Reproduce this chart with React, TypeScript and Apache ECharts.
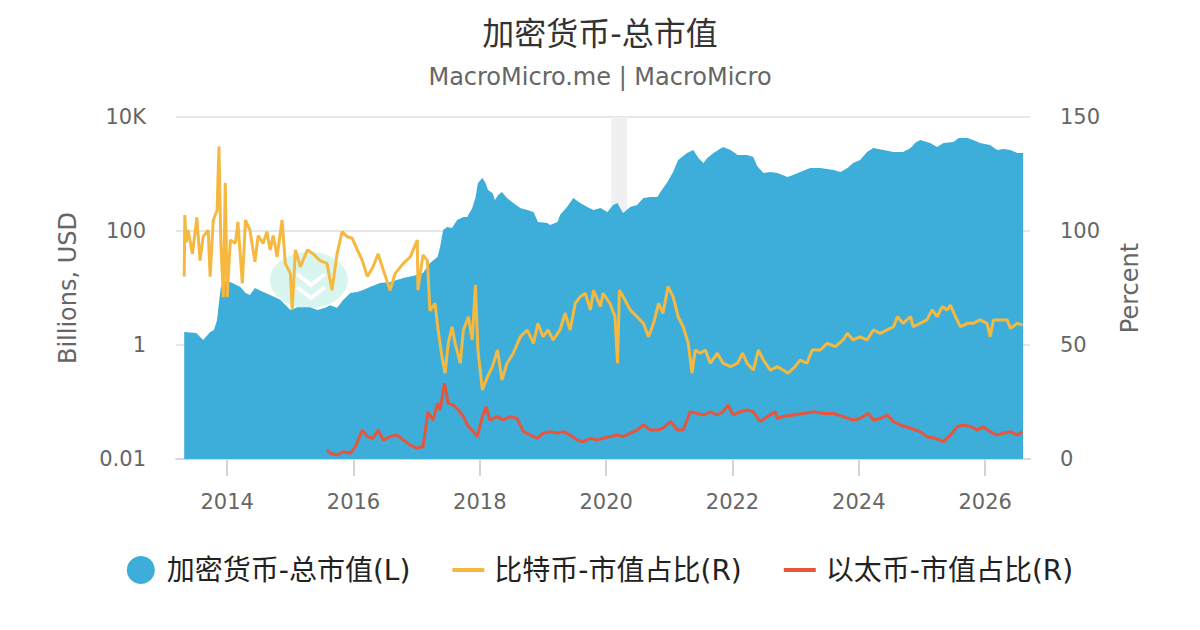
import React, { useEffect, useRef } from "react";
import * as echarts from "echarts";

// Total crypto market cap (billions USD), decimal year
const capYears = [
  2013.32, 2013.51, 2013.62, 2013.73, 2013.79, 2013.84, 2013.87, 2013.9, 2013.95, 2014.05,
  2014.21, 2014.29, 2014.36, 2014.44, 2014.57, 2014.68, 2014.84, 2015.0, 2015.11, 2015.31,
  2015.43, 2015.55, 2015.63, 2015.74, 2015.84, 2015.95, 2016.06, 2016.15, 2016.26, 2016.42,
  2016.58, 2016.79, 2017.01, 2017.1, 2017.21, 2017.33, 2017.37, 2017.42, 2017.48, 2017.56,
  2017.64, 2017.74, 2017.8, 2017.88, 2017.93, 2017.97, 2018.04, 2018.09, 2018.13, 2018.2,
  2018.24, 2018.29, 2018.35, 2018.43, 2018.53, 2018.64, 2018.75, 2018.85, 2018.92, 2019.07,
  2019.11, 2019.23, 2019.27, 2019.38, 2019.48, 2019.59, 2019.7, 2019.8, 2019.91, 2020.02,
  2020.11, 2020.18, 2020.22, 2020.27, 2020.38, 2020.49, 2020.59, 2020.7, 2020.81, 2020.86,
  2020.97, 2021.06, 2021.14, 2021.28, 2021.38, 2021.46, 2021.54, 2021.6, 2021.7, 2021.85,
  2021.97, 2022.08, 2022.23, 2022.33, 2022.39, 2022.49, 2022.6, 2022.71, 2022.87, 2022.96,
  2023.07, 2023.23, 2023.39, 2023.6, 2023.71, 2023.82, 2023.91, 2024.02, 2024.13, 2024.23,
  2024.39, 2024.55, 2024.7, 2024.82, 2024.89, 2024.97, 2025.13, 2025.24, 2025.34, 2025.5,
  2025.58, 2025.72, 2025.81, 2025.92, 2026.08, 2026.19, 2026.29, 2026.4, 2026.51, 2026.6,
];
const capValues = [
  1.69, 1.62, 1.22, 1.69, 1.83, 2.75, 5.46, 10.4, 12.7, 12.7,
  10.4, 8.2, 7.5, 10.0, 8.5, 7.5, 6.2, 4.1, 4.6, 4.6,
  4.1, 4.5, 5.0, 4.5, 6.2, 8.2, 8.5, 9.2, 10.4, 12.2,
  12.7, 15.0, 16.9, 18.3, 27.5, 35, 52, 104, 117, 113,
  156, 176, 176, 253, 379, 695, 851, 695, 524, 464,
  350, 428, 483, 379, 310, 253, 234, 215, 144, 138,
  127, 144, 191, 264, 379, 310, 264, 234, 253, 215,
  286, 310, 253, 207, 264, 286, 379, 395, 395, 483,
  724, 1084, 1762, 2334, 2636, 1909, 1560, 1909, 2334, 2980,
  2636, 2154, 2154, 1987, 1381, 1042, 1084, 1042, 885, 960,
  1084, 1274, 1274, 1175, 1084, 1274, 1560, 1762, 2432, 2858,
  2636, 2432, 2432, 2858, 3500, 3946, 3500, 2980, 3500, 3640,
  4283, 4283, 3946, 3500, 3228, 2636, 2748, 2636, 2334, 2334,
];

// Bitcoin dominance (%)
const btcYears = [
  2013.32, 2013.33, 2013.35, 2013.38, 2013.45, 2013.52, 2013.57, 2013.62, 2013.7, 2013.73,
  2013.78, 2013.84, 2013.87, 2013.9, 2013.94, 2013.97, 2014.0, 2014.05, 2014.13, 2014.17,
  2014.24, 2014.29, 2014.36, 2014.44, 2014.49, 2014.57, 2014.63, 2014.68, 2014.73, 2014.79,
  2014.87, 2014.92, 2015.0, 2015.03, 2015.08, 2015.16, 2015.27, 2015.36, 2015.47, 2015.58,
  2015.66, 2015.74, 2015.82, 2015.9, 2015.98, 2016.06, 2016.14, 2016.22, 2016.31, 2016.39,
  2016.47, 2016.58, 2016.66, 2016.79, 2016.9, 2017.01, 2017.02, 2017.1, 2017.17, 2017.21,
  2017.29, 2017.34, 2017.4, 2017.45, 2017.5, 2017.56, 2017.61, 2017.69, 2017.74, 2017.82,
  2017.88, 2017.93, 2017.97, 2018.04, 2018.12, 2018.2, 2018.28, 2018.35, 2018.43, 2018.53,
  2018.64, 2018.75, 2018.85, 2018.92, 2019.0, 2019.08, 2019.16, 2019.27, 2019.35, 2019.43,
  2019.51, 2019.59, 2019.67, 2019.75, 2019.8, 2019.91, 2019.95, 2020.06, 2020.14, 2020.18,
  2020.21, 2020.3, 2020.38, 2020.49, 2020.59, 2020.67, 2020.75, 2020.83, 2020.9, 2020.98,
  2021.06, 2021.14, 2021.22, 2021.3, 2021.36, 2021.41, 2021.49, 2021.57, 2021.65, 2021.76,
  2021.85, 2021.97, 2022.08, 2022.16, 2022.23, 2022.33, 2022.41, 2022.49, 2022.6, 2022.71,
  2022.8, 2022.88, 2022.99, 2023.07, 2023.18, 2023.26, 2023.39, 2023.5, 2023.63, 2023.75,
  2023.82, 2023.91, 2024.02, 2024.13, 2024.23, 2024.34, 2024.45, 2024.55, 2024.61, 2024.7,
  2024.82, 2024.86, 2024.97, 2025.08, 2025.16, 2025.24, 2025.32, 2025.4, 2025.45, 2025.53,
  2025.61, 2025.72, 2025.81, 2025.92, 2026.03, 2026.08, 2026.13, 2026.24, 2026.35, 2026.4,
  2026.51, 2026.59,
];
const btcValues = [
  80, 107, 95, 100.4, 90, 106, 87, 97.5, 100.4, 80,
  104.8, 109, 137, 94.6, 71, 121, 71, 96, 94.6, 104,
  77, 104.8, 100.4, 86.5, 98, 94.6, 99.7, 91.7, 98, 88.7,
  104.8, 85.8, 81.4, 65.4, 91.7, 84.3, 91.7, 90, 87, 85.8,
  74, 90, 99.7, 97.5, 96.8, 91.7, 87, 80, 84.3, 90,
  83, 74, 81.4, 85.8, 88.7, 96, 74, 89.5, 87, 65,
  68.3, 56.6, 44.9, 37.6, 50.7, 58, 50.7, 42, 56.6, 62.4,
  52.2, 76.3, 47.8, 30.3, 36, 40.5, 47.8, 34.6, 42, 46.4,
  53.6, 56.6, 50.7, 59.5, 53.6, 56.6, 52.2, 56.6, 63.9, 56.6,
  68.3, 71.2, 72.7, 65.4, 74, 66.8, 72.7, 68.3, 62.4, 42,
  74, 69.7, 65.4, 62.4, 59.5, 53.6, 59.5, 68.3, 63.9, 75.6,
  71.2, 62.4, 58, 50.7, 37.6, 47.8, 46.4, 47.8, 42, 46.4,
  42, 40.5, 42, 46.4, 42, 39, 47.8, 43.4, 39, 40.5,
  39, 37.6, 40.5, 43.4, 42, 47.8, 47.8, 50.7, 49.3, 52.2,
  55.1, 52.2, 53.6, 52.2, 56.6, 55.1, 56.6, 58, 62.4, 59.5,
  62.4, 58, 59.5, 61, 65.4, 62.4, 66.8, 65.4, 67.5, 62.4,
  58, 59.5, 59.5, 61, 59.5, 53.6, 61, 61, 61, 57.3,
  59.5, 58.8,
];

// Ethereum dominance (%)
const ethYears = [
  2015.58, 2015.63, 2015.74, 2015.84, 2015.95, 2016.03, 2016.14, 2016.22, 2016.31, 2016.39,
  2016.47, 2016.58, 2016.69, 2016.79, 2016.9, 2017.01, 2017.1, 2017.18, 2017.26, 2017.33,
  2017.37, 2017.44, 2017.5, 2017.58, 2017.66, 2017.74, 2017.82, 2017.88, 2017.96, 2018.04,
  2018.1, 2018.16, 2018.28, 2018.37, 2018.48, 2018.59, 2018.69, 2018.8, 2018.91, 2019.0,
  2019.11, 2019.23, 2019.32, 2019.43, 2019.54, 2019.64, 2019.75, 2019.86, 2019.95, 2020.06,
  2020.18, 2020.27, 2020.38, 2020.49, 2020.59, 2020.7, 2020.81, 2020.9, 2021.02, 2021.13,
  2021.22, 2021.33, 2021.44, 2021.54, 2021.65, 2021.76, 2021.85, 2021.93, 2022.01, 2022.12,
  2022.23, 2022.33, 2022.44, 2022.55, 2022.68, 2022.71, 2022.8, 2022.96, 2023.12, 2023.28,
  2023.44, 2023.6, 2023.75, 2023.91, 2024.02, 2024.15, 2024.23, 2024.34, 2024.45, 2024.55,
  2024.66, 2024.82, 2024.97, 2025.08, 2025.21, 2025.34, 2025.45, 2025.56, 2025.65, 2025.77,
  2025.88, 2025.97, 2026.08, 2026.19, 2026.29, 2026.4, 2026.51, 2026.59,
];
const ethValues = [
  3.9, 2.5, 1.75, 3.2, 2.5, 5.4, 12.7, 9.8, 9.1, 12.7,
  8.3, 9.8, 10.5, 8.3, 6.1, 4.7, 5.4, 20.7, 17.1, 24.4,
  21.5, 33.2, 24.4, 23.7, 21.5, 18.6, 14.2, 12.7, 9.8, 18.6,
  22.9, 17.1, 18.6, 17.1, 18.6, 17.8, 12, 10.5, 9.1, 11.3,
  12, 11.3, 12, 10.5, 8.3, 7.6, 9.1, 8.3, 9.1, 9.8,
  10.5, 9.8, 11.3, 12.7, 14.9, 12.7, 12.7, 13.5, 16.4, 12.7,
  12.7, 20.7, 20, 19.3, 20.7, 19.3, 20.7, 23.7, 19.3, 20.7,
  21.5, 20.7, 16.4, 18.6, 20.7, 17.8, 18.6, 19.3, 20, 20.7,
  20, 20, 18.6, 17.1, 17.8, 20, 17.1, 17.8, 19.3, 16.4,
  14.9, 13.5, 12, 9.8, 9.1, 7.6, 10.5, 14.2, 14.9, 14.2,
  12.7, 14.2, 12, 10.5, 11.3, 12, 10.5, 12,
];

const recessionBand = [2020.08, 2020.33];
const xTickYears = [2014, 2016, 2018, 2020, 2022, 2024, 2026];
const leftTickValues = [0.01, 1, 100, 10000];
const leftTickLabels = ["0.01", "1", "100", "10K"];
const seriesNames = ["加密货币-总市值(L)", "比特币-市值占比(R)", "以太币-市值占比(R)"];
const seriesColors = ["#3caed9", "#f5b942", "#e8553d"];

const FONT = "'DejaVu Sans', 'Noto Sans CJK SC', sans-serif";
const LINE_ICON = "path://M0 0H32V4H0Z";

const zip = (xs: number[], ys: number[]) => xs.map((x, i) => [x, ys[i]]);

export default function App() {
  const ref = useRef<HTMLDivElement>(null);
  useEffect(() => {
    if (!ref.current) return;
    const chart = echarts.init(ref.current, undefined, { renderer: "svg" });
    const axisText = { color: "#666", fontSize: 21, fontFamily: FONT };
    chart.setOption({
      animation: false,
      backgroundColor: "#fff",
      textStyle: { fontFamily: FONT },
      title: {
        text: "加密货币-总市值",
        subtext: "MacroMicro.me | MacroMicro",
        left: "center",
        top: 13,
        itemGap: 15,
        textStyle: { fontSize: 32, fontWeight: "normal", color: "#333", fontFamily: FONT },
        subtextStyle: { fontSize: 24, color: "#666", fontFamily: FONT },
      },
      // faint watermark logo behind the plot
      graphic: [
        {
          type: "ellipse",
          z: -10,
          silent: true,
          shape: { cx: 309, cy: 280, rx: 39, ry: 28 },
          style: { fill: "#d8f5f0" },
        },
        {
          type: "polyline",
          z: -9,
          silent: true,
          shape: { points: [[297, 274], [311, 285], [325, 274]] },
          style: { stroke: "#ffffff", lineWidth: 4, fill: null },
        },
        {
          type: "polyline",
          z: -9,
          silent: true,
          shape: { points: [[297, 287], [311, 298], [325, 287]] },
          style: { stroke: "#ffffff", lineWidth: 4, fill: null },
        },
      ],
      legend: {
        top: 551,
        left: "center",
        itemWidth: 32,
        itemHeight: 28,
        itemGap: 42,
        textStyle: { fontSize: 28, color: "#222", fontFamily: FONT, padding: [0, 0, 0, 5] },
        data: [
          { name: seriesNames[0], icon: "circle" },
          { name: seriesNames[1], icon: LINE_ICON },
          { name: seriesNames[2], icon: LINE_ICON },
        ],
      },
      grid: { left: 176, right: 170, top: 117, bottom: 171, outerBoundsMode: "none" },
      xAxis: {
        type: "value",
        min: 2013.19,
        max: 2026.71,
        splitLine: { show: false },
        axisLine: { show: true, lineStyle: { color: "#d8d8d8", width: 2 } },
        axisTick: {
          show: true,
          length: 17,
          lineStyle: { color: "#d4d4d4", width: 2 },
          customValues: xTickYears,
        },
        axisLabel: {
          ...axisText,
          margin: 32,
          customValues: xTickYears,
          formatter: (v: number) => String(Math.round(v)),
        },
      },
      yAxis: [
        {
          type: "log",
          logBase: 10,
          min: 0.01,
          max: 10000,
          interval: 2,
          name: "Billions, USD",
          nameLocation: "middle",
          nameGap: 96,
          nameTextStyle: { color: "#666", fontSize: 24, fontFamily: FONT },
          axisLine: { show: false },
          axisTick: { show: false },
          splitLine: { show: true, lineStyle: { color: "#e6e6e6", width: 2 } },
          axisLabel: {
            ...axisText,
            margin: 30,
            formatter: (v: number) => {
              const i = leftTickValues.findIndex((t) => Math.abs(Math.log10(t) - Math.log10(v)) < 1e-6);
              return i >= 0 ? leftTickLabels[i] : "";
            },
          },
        },
        {
          type: "value",
          min: 0,
          max: 150,
          interval: 50,
          name: "Percent",
          nameLocation: "middle",
          nameGap: 88,
          nameTextStyle: { color: "#666", fontSize: 24, fontFamily: FONT },
          axisLine: { show: false },
          axisTick: { show: false },
          splitLine: { show: false },
          axisLabel: { ...axisText, margin: 30 },
        },
      ],
      series: [
        {
          name: seriesNames[0],
          type: "line",
          yAxisIndex: 0,
          data: zip(capYears, capValues),
          symbol: "none",
          showSymbol: false,
          lineStyle: { width: 0, color: seriesColors[0] },
          itemStyle: { color: seriesColors[0] },
          areaStyle: { color: seriesColors[0], opacity: 1, origin: "start" },
          z: 2,
          markArea: {
            silent: true,
            z: 1,
            itemStyle: { color: "#f0f0f0" },
            data: [[{ xAxis: recessionBand[0] }, { xAxis: recessionBand[1] }]],
          },
        },
        {
          name: seriesNames[1],
          type: "line",
          yAxisIndex: 1,
          data: zip(btcYears, btcValues),
          symbol: "none",
          showSymbol: false,
          lineStyle: { width: 3, color: seriesColors[1] },
          itemStyle: { color: seriesColors[1] },
          z: 3,
        },
        {
          name: seriesNames[2],
          type: "line",
          yAxisIndex: 1,
          data: zip(ethYears, ethValues),
          symbol: "none",
          showSymbol: false,
          lineStyle: { width: 3, color: seriesColors[2] },
          itemStyle: { color: seriesColors[2] },
          z: 4,
        },
      ],
    });
    return () => chart.dispose();
  }, []);
  return (
    <div
      ref={ref}
      style={{ position: "fixed", left: 0, top: 0, width: 1200, height: 630, background: "#fff" }}
    />
  );
}
